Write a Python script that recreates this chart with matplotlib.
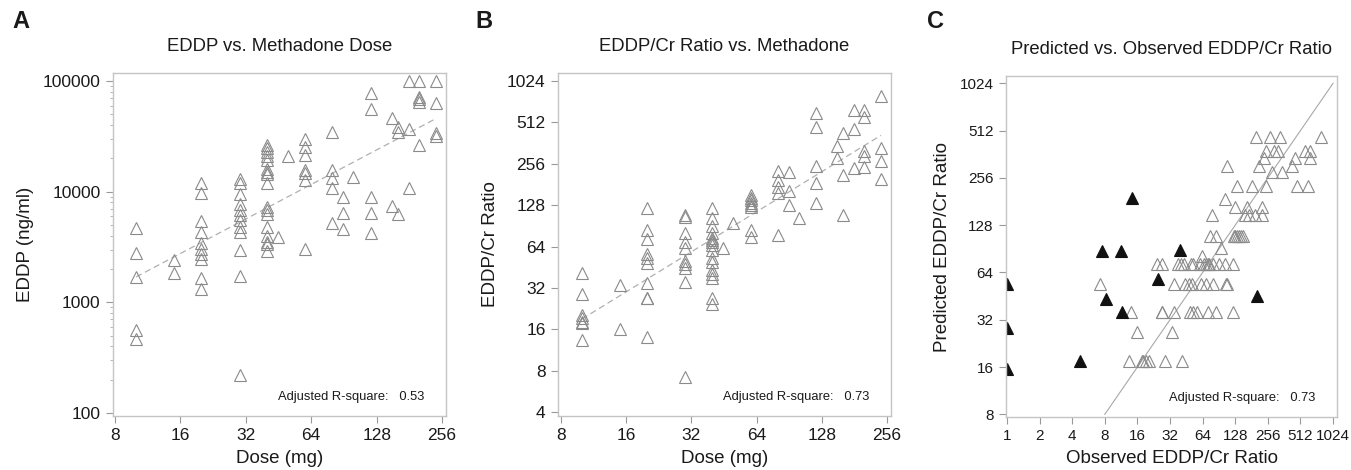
import numpy as np
import matplotlib
matplotlib.use('Agg')
import matplotlib.pyplot as plt
from matplotlib.ticker import FixedLocator, FixedFormatter, LogLocator, NullFormatter

plt.rcParams['font.family'] = ['Liberation Sans', 'DejaVu Sans']

# methadone dose groups (mg)
doses = [10, 15, 20, 30, 40, 45, 50, 60, 80, 90, 100, 120, 150, 160, 180, 200, 240]

# panel A: EDDP (ng/ml) per dose group
eddp = [
    [4730, 2810, 1690, 564, 465],
    [2415, 1855],
    [12050, 9680, 5470, 4350, 3420, 3030, 2720, 2450, 1650, 1320],
    [13030, 12000, 9530, 7740, 6840, 6170, 5550, 4800, 4330, 2970, 1730, 221],
    [26400, 24700, 22980, 20990, 19310, 15920, 15160, 14460, 11910, 7330, 6840,
     6290, 4830, 4010, 3490, 3380, 2910],
    [3870],
    [21120],
    [29900, 25200, 21500, 15700, 14850, 12610, 3030],
    [34800, 15700, 13200, 10740, 5190],
    [8890, 6380, 4570],
    [13500],
    [77400, 56200, 9010, 6380, 4200],
    [46700, 7430],
    [38600, 34800, 6290],
    [100000, 36600, 10740],
    [100000, 72100, 68300, 65000, 26400],
    [99400, 63700, 33900, 32100],
]

# panel B: EDDP/Cr ratio per dose group
ratio = [
    [41.3, 28.9, 20.3, 19.2, 18.2, 17.7, 13.5],
    [33.6, 16.0],
    [122.6, 84.4, 72.2, 56.2, 52.5, 48.8, 34.5, 27.1, 27.1, 14.1],
    [108.5, 105.4, 79.8, 69.4, 62.1, 50.5, 47.5, 44.4, 35.1, 7.2],
    [122.6, 103.7, 90.2, 79.8, 73.4, 71.4, 69.4, 65.6, 60.4, 52.5, 49.6, 43.2,
     40.4, 37.6, 26.9, 24.3],
    [62.8],
    [95.3],
    [151.7, 145, 139.5, 133.4, 128.3, 123.4, 84.4, 75.4],
    [227.9, 195, 172.6, 156.1, 77.6],
    [224, 163, 128.3],
    [102.6],
    [596, 471, 248, 184.4, 132],
    [344.7, 280],
    [430.8, 212, 108.5],
    [630, 458, 237],
    [630, 563, 318.5, 291, 243.7],
    [796, 331.5, 269.5, 197.3],
]

pred_by_dose = [17.5, 26.6, 35.7, 54, 72, 82, 91, 109, 149, 168, 187, 227,
                280, 306, 341, 380, 464]

# panel C: excluded samples (filled triangles)
excl_obs = [1, 1, 1, 4.7, 7.6, 11.2, 14.4, 8.2, 11.6, 24.6, 39.6, 202]
excl_pred = [54, 28.5, 15.6, 17.6, 88, 88, 191, 43.2, 36, 58.2, 89, 45]

r2 = ['0.53', '0.73', '0.73']

W, H = 1351, 470
fig = plt.figure(figsize=(W / 100, H / 100), dpi=100)

def px_axes(l, t, r, b):
    return fig.add_axes([l / W, 1 - b / H, (r - l) / W, (b - t) / H])

spine_c = '#c4c4c4'
txt_c = '#1a1a1a'
mk = dict(marker='^', ls='none', ms=9, mfc='none', mec='#8a8a8a', mew=0.8)

def style(ax, xt, yt, minor_y=False, fs=12.5):
    ax.set_xscale('log')
    ax.set_yscale('log')
    for s in ax.spines.values():
        s.set_color(spine_c)
        s.set_linewidth(1.0)
    ax.xaxis.set_major_locator(FixedLocator(xt))
    ax.xaxis.set_major_formatter(FixedFormatter([str(v) for v in xt]))
    ax.xaxis.set_minor_locator(FixedLocator([]))
    ax.yaxis.set_major_locator(FixedLocator(yt))
    ax.yaxis.set_major_formatter(FixedFormatter([str(v) for v in yt]))
    if minor_y:
        ax.yaxis.set_minor_locator(LogLocator(base=10, subs=np.arange(2, 10)))
        ax.yaxis.set_minor_formatter(NullFormatter())
    else:
        ax.yaxis.set_minor_locator(FixedLocator([]))
    ax.tick_params(which='major', direction='out', length=5, width=0.8,
                   color='#999999', labelsize=fs, labelcolor=txt_c, pad=4)
    ax.tick_params(which='minor', direction='out', length=2.5, width=0.6,
                   color='#aaaaaa')

def labels(ax, title, xl, yl):
    ax.set_title(title, fontsize=13.3, pad=16, color=txt_c)
    ax.set_xlabel(xl, fontsize=13.5, labelpad=5, color=txt_c)
    ax.set_ylabel(yl, fontsize=13.5, labelpad=6, color=txt_c)

def flat(groups):
    xs, ys = [], []
    for d, g in zip(doses, groups):
        xs += [d] * len(g)
        ys += list(g)
    return np.array(xs, float), np.array(ys, float)

def fit_line(ax, x, y):
    k, c = np.polyfit(np.log(x), np.log(y), 1)
    xx = np.array([min(doses), max(doses)], float)
    ax.plot(xx, np.exp(c) * xx ** k, ls=(0, (5, 3)), color='#b0b0b0', lw=0.9)

# ---- A ----
axA = px_axes(113, 73, 446, 416)
xA, yA = flat(eddp)
fit_line(axA, xA, yA)
axA.plot(xA, yA, **mk)
style(axA, [8, 16, 32, 64, 128, 256], [100, 1000, 10000, 100000], minor_y=True)
axA.set_xlim(7.83, 267)
axA.set_ylim(94, 118000)
labels(axA, 'EDDP vs. Methadone Dose', 'Dose (mg)', 'EDDP (ng/ml)')

# ---- B ----
axB = px_axes(558, 73, 891, 416)
xB, yB = flat(ratio)
fit_line(axB, xB, yB)
axB.plot(xB, yB, **mk)
style(axB, [8, 16, 32, 64, 128, 256], [4, 8, 16, 32, 64, 128, 256, 512, 1024])
axB.set_xlim(7.75, 267)
axB.set_ylim(3.75, 1171)
labels(axB, 'EDDP/Cr Ratio vs. Methadone', 'Dose (mg)', 'EDDP/Cr Ratio')

# ---- C ----
axC = px_axes(1006, 76, 1337, 417)
pC = np.concatenate([[p] * len(g) for p, g in zip(pred_by_dose, ratio)])
axC.plot([8, 1024], [8, 1024], color='#a8a8a8', lw=0.8)
axC.plot(yB, pC, **mk)
axC.plot(excl_obs, excl_pred, marker='^', ls='none', ms=9, mfc='#111111',
         mec='#111111', mew=0.8)
t2 = [1, 2, 4, 8, 16, 32, 64, 128, 256, 512, 1024]
style(axC, t2, [8, 16, 32, 64, 128, 256, 512, 1024], fs=11)
axC.set_xlim(0.979, 1113)
axC.set_ylim(7.69, 1139)
labels(axC, 'Predicted vs. Observed EDDP/Cr Ratio', 'Observed EDDP/Cr Ratio',
       'Predicted EDDP/Cr Ratio')

for ax, r in zip([axA, axB, axC], r2):
    ax.text(0.935, 0.055, 'Adjusted R-square:   ' + r, transform=ax.transAxes,
            ha='right', va='center', fontsize=9.3, color=txt_c)

for lab, x in zip('ABC', [12, 475, 927]):
    fig.text(x / W, 1 - 22 / H, lab, fontsize=17, fontweight='bold',
             ha='left', va='center', color=txt_c)

fig.savefig('out.png', dpi=100)
